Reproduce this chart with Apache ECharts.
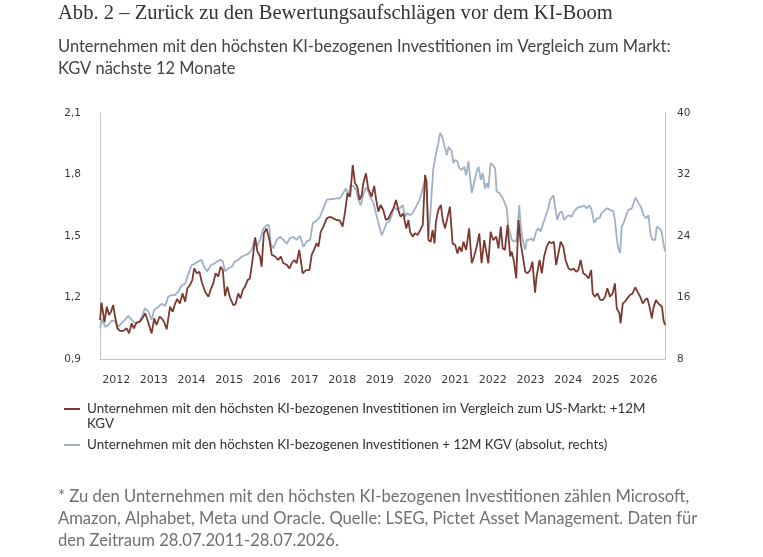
<!DOCTYPE html>
<html>
<head>
<meta charset="utf-8">
<title>Abb. 2</title>
<script src="https://cdn.jsdelivr.net/npm/echarts@6/dist/echarts.min.js"></script>
<style>
  html, body { margin: 0; padding: 0; background: #fff; }
  #chart { width: 763px; height: 557px; }
</style>
</head>
<body>
<div id="chart"></div>
<script>
// year ticks on the x axis
var yearTicks = [2012, 2013, 2014, 2015, 2016, 2017, 2018, 2019, 2020, 2021, 2022, 2023, 2024, 2025, 2026];

// relative 12M KGV vs US market (left axis), dates as decimal years
var relDates = [
  2011.57, 2011.61, 2011.69, 2011.75, 2011.81, 2011.86, 2011.92, 2011.97, 2012.03, 2012.10,
  2012.19, 2012.28, 2012.34, 2012.41, 2012.47, 2012.54, 2012.63, 2012.72, 2012.77, 2012.83,
  2012.88, 2012.94, 2013.01, 2013.07, 2013.15, 2013.21, 2013.27, 2013.34, 2013.43, 2013.50,
  2013.56, 2013.62, 2013.69, 2013.76, 2013.83, 2013.89, 2013.96, 2014.02, 2014.07, 2014.14,
  2014.21, 2014.27, 2014.36, 2014.45, 2014.51, 2014.58, 2014.64, 2014.71, 2014.77, 2014.83,
  2014.89, 2014.95, 2015.02, 2015.11, 2015.17, 2015.24, 2015.30, 2015.36, 2015.42, 2015.49,
  2015.55, 2015.62, 2015.69, 2015.75, 2015.82, 2015.86, 2015.92, 2015.99, 2016.07, 2016.13,
  2016.22, 2016.30, 2016.37, 2016.44, 2016.53, 2016.60, 2016.66, 2016.73, 2016.79, 2016.86,
  2016.95, 2017.04, 2017.13, 2017.19, 2017.25, 2017.32, 2017.37, 2017.43, 2017.50, 2017.59,
  2017.68, 2017.76, 2017.85, 2017.94, 2018.01, 2018.07, 2018.14, 2018.21, 2018.28, 2018.34,
  2018.40, 2018.46, 2018.52, 2018.56, 2018.63, 2018.69, 2018.74, 2018.78, 2018.85, 2018.90,
  2018.96, 2019.02, 2019.09, 2019.16, 2019.23, 2019.29, 2019.36, 2019.43, 2019.49, 2019.55,
  2019.62, 2019.70, 2019.76, 2019.80, 2019.87, 2019.93, 2020.00, 2020.07, 2020.14, 2020.20,
  2020.24, 2020.29, 2020.35, 2020.40, 2020.45, 2020.49, 2020.55, 2020.62, 2020.67, 2020.73,
  2020.79, 2020.86, 2020.93, 2021.00, 2021.06, 2021.11, 2021.17, 2021.22, 2021.29, 2021.37,
  2021.44, 2021.50, 2021.57, 2021.64, 2021.70, 2021.77, 2021.82, 2021.88, 2021.94, 2022.01,
  2022.09, 2022.15, 2022.21, 2022.26, 2022.32, 2022.39, 2022.46, 2022.50, 2022.56, 2022.62,
  2022.68, 2022.74, 2022.79, 2022.86, 2022.92, 2022.99, 2023.05, 2023.12, 2023.16, 2023.24,
  2023.30, 2023.36, 2023.43, 2023.50, 2023.56, 2023.62, 2023.68, 2023.74, 2023.80, 2023.87,
  2023.93, 2024.01, 2024.08, 2024.14, 2024.21, 2024.27, 2024.33, 2024.40, 2024.47, 2024.54,
  2024.61, 2024.65, 2024.71, 2024.78, 2024.85, 2024.92, 2024.98, 2025.04, 2025.11, 2025.18,
  2025.24, 2025.29, 2025.36, 2025.39, 2025.45, 2025.51, 2025.57, 2025.64, 2025.71, 2025.78,
  2025.84, 2025.91, 2025.98, 2026.04, 2026.10, 2026.16, 2026.22, 2026.26, 2026.33, 2026.39,
  2026.44, 2026.49, 2026.53, 2026.57
];
var relValues = [
  1.09, 1.175, 1.08, 1.155, 1.115, 1.13, 1.163, 1.106, 1.05, 1.037,
  1.037, 1.05, 1.025, 1.074, 1.05, 1.077, 1.082, 1.106, 1.123, 1.09,
  1.09, 1.025, 1.098, 1.066, 1.106, 1.098, 1.082, 1.045, 1.155, 1.13,
  1.168, 1.193, 1.171, 1.22, 1.18, 1.245, 1.261, 1.285, 1.342, 1.318,
  1.326, 1.277, 1.228, 1.204, 1.24, 1.27, 1.318, 1.302, 1.35, 1.334,
  1.207, 1.253, 1.2, 1.163, 1.168, 1.22, 1.196, 1.237, 1.253, 1.285,
  1.293, 1.383, 1.493, 1.424, 1.4, 1.35, 1.513, 1.537, 1.48, 1.408,
  1.4, 1.383, 1.4, 1.367, 1.359, 1.342, 1.367, 1.383, 1.367, 1.432,
  1.318, 1.334, 1.334, 1.408, 1.432, 1.465, 1.448, 1.52, 1.546, 1.586,
  1.594, 1.586, 1.578, 1.575, 1.546, 1.61, 1.708, 1.692, 1.846, 1.757,
  1.741, 1.676, 1.7, 1.757, 1.806, 1.733, 1.724, 1.692, 1.744, 1.679,
  1.619, 1.651, 1.627, 1.578, 1.586, 1.61, 1.635, 1.676, 1.627, 1.594,
  1.61, 1.537, 1.578, 1.521, 1.497, 1.513, 1.505, 1.529, 1.554, 1.798,
  1.765, 1.48, 1.472, 1.529, 1.464, 1.57, 1.627, 1.651, 1.578, 1.537,
  1.586, 1.643, 1.464, 1.456, 1.415, 1.448, 1.424, 1.472, 1.432, 1.537,
  1.367, 1.4, 1.448, 1.513, 1.367, 1.48, 1.488, 1.367, 1.521, 1.48,
  1.497, 1.44, 1.546, 1.44, 1.432, 1.554, 1.4, 1.424, 1.375, 1.293,
  1.578, 1.464, 1.456, 1.326, 1.318, 1.334, 1.375, 1.224, 1.302, 1.383,
  1.318, 1.4, 1.448, 1.472, 1.464, 1.472, 1.358, 1.415, 1.472, 1.448,
  1.383, 1.342, 1.334, 1.342, 1.326, 1.334, 1.383, 1.318, 1.31, 1.293,
  1.334, 1.22, 1.204, 1.22, 1.188, 1.188, 1.204, 1.245, 1.204, 1.22,
  1.269, 1.147, 1.123, 1.074, 1.171, 1.18, 1.196, 1.212, 1.22, 1.25,
  1.229, 1.204, 1.171, 1.188, 1.196, 1.155, 1.098, 1.147, 1.188, 1.171,
  1.18, 1.155, 1.09, 1.066
];

// absolute 12M KGV (right axis)
var absDates = [
  2011.57, 2011.64, 2011.70, 2011.79, 2011.88, 2011.97, 2012.06, 2012.15, 2012.23, 2012.32,
  2012.41, 2012.50, 2012.59, 2012.68, 2012.76, 2012.85, 2012.94, 2013.01, 2013.12, 2013.21,
  2013.30, 2013.38, 2013.47, 2013.56, 2013.65, 2013.74, 2013.83, 2013.92, 2014.00, 2014.09,
  2014.18, 2014.27, 2014.33, 2014.42, 2014.51, 2014.60, 2014.69, 2014.77, 2014.83, 2014.89,
  2014.98, 2015.07, 2015.15, 2015.24, 2015.33, 2015.42, 2015.51, 2015.60, 2015.67, 2015.73,
  2015.82, 2015.91, 2015.99, 2016.06, 2016.10, 2016.17, 2016.26, 2016.35, 2016.44, 2016.53,
  2016.61, 2016.70, 2016.79, 2016.88, 2016.97, 2017.06, 2017.15, 2017.22, 2017.32, 2017.41,
  2017.50, 2017.59, 2017.68, 2017.76, 2017.85, 2017.94, 2018.03, 2018.10, 2018.16, 2018.22,
  2018.30, 2018.37, 2018.43, 2018.49, 2018.56, 2018.63, 2018.69, 2018.74, 2018.83, 2018.92,
  2019.01, 2019.05, 2019.11, 2019.18, 2019.25, 2019.32, 2019.38, 2019.45, 2019.52, 2019.61,
  2019.67, 2019.73, 2019.80, 2019.87, 2019.96, 2020.05, 2020.11, 2020.16, 2020.20, 2020.24,
  2020.29, 2020.33, 2020.38, 2020.42, 2020.47, 2020.51, 2020.55, 2020.60, 2020.64, 2020.69,
  2020.73, 2020.78, 2020.82, 2020.86, 2020.91, 2020.95, 2021.00, 2021.06, 2021.11, 2021.17,
  2021.24, 2021.29, 2021.35, 2021.39, 2021.44, 2021.50, 2021.57, 2021.62, 2021.68, 2021.73,
  2021.79, 2021.84, 2021.88, 2021.94, 2022.00, 2022.06, 2022.10, 2022.17, 2022.24, 2022.30,
  2022.37, 2022.41, 2022.46, 2022.50, 2022.56, 2022.62, 2022.66, 2022.70, 2022.74, 2022.79,
  2022.86, 2022.90, 2022.97, 2023.03, 2023.08, 2023.15, 2023.21, 2023.27, 2023.34, 2023.41,
  2023.47, 2023.52, 2023.56, 2023.61, 2023.65, 2023.71, 2023.77, 2023.83, 2023.89, 2023.96,
  2024.03, 2024.09, 2024.16, 2024.23, 2024.30, 2024.36, 2024.42, 2024.49, 2024.56, 2024.62,
  2024.69, 2024.76, 2024.83, 2024.89, 2024.98, 2025.04, 2025.11, 2025.20, 2025.24, 2025.29,
  2025.33, 2025.38, 2025.42, 2025.47, 2025.54, 2025.60, 2025.69, 2025.75, 2025.79, 2025.86,
  2025.93, 2026.00, 2026.07, 2026.13, 2026.19, 2026.24, 2026.31, 2026.35, 2026.42, 2026.48,
  2026.53, 2026.57
];
var absValues = [
  12.0, 13.3, 12.2, 12.4, 13.0, 12.9, 12.2, 12.7, 13.1, 13.6,
  13.1, 12.7, 12.7, 13.5, 14.6, 14.2, 13.1, 14.4, 14.8, 15.2,
  14.9, 16.1, 16.3, 16.3, 16.8, 17.6, 17.8, 19.1, 20.2, 20.4,
  20.7, 20.9, 20.0, 19.4, 20.2, 20.4, 20.7, 20.9, 20.7, 19.4,
  19.8, 20.0, 20.7, 20.9, 21.3, 21.5, 21.7, 22.2, 23.5, 22.6,
  23.5, 25.0, 25.4, 25.4, 23.0, 22.4, 23.5, 23.9, 23.5, 23.0,
  23.7, 23.9, 23.5, 24.0, 22.6, 23.3, 23.5, 25.7, 26.0, 26.5,
  27.6, 28.7, 28.8, 28.8, 28.9, 28.9, 29.6, 30.2, 29.1, 30.6,
  30.5, 30.0, 28.7, 28.0, 29.3, 30.3, 29.8, 29.1, 28.3, 26.5,
  24.8, 24.1, 24.8, 25.7, 25.9, 26.7, 27.8, 27.4, 27.6, 28.0,
  26.5, 27.0, 26.7, 27.0, 27.8, 28.7, 29.6, 30.6, 31.3, 29.8,
  23.9, 26.1, 30.0, 32.8, 33.0, 35.2, 36.0, 37.4, 37.1, 36.3,
  35.4, 34.5, 35.6, 35.8, 35.0, 33.5, 33.9, 33.7, 32.8, 32.6,
  33.0, 31.9, 33.7, 33.9, 29.6, 30.9, 32.4, 33.0, 31.3, 32.2,
  30.2, 30.9, 30.2, 33.5, 33.2, 32.8, 29.8, 29.6, 29.1, 28.5,
  27.6, 25.2, 24.4, 23.5, 23.3, 23.3, 25.2, 28.0, 25.2, 23.5,
  22.2, 23.5, 23.5, 23.7, 23.3, 24.6, 25.0, 24.6, 25.7, 26.7,
  27.6, 28.7, 28.9, 29.3, 27.8, 26.1, 27.0, 27.2, 26.1, 26.5,
  26.7, 26.5, 27.2, 27.6, 27.8, 27.8, 28.0, 27.6, 28.0, 27.4,
  25.7, 26.3, 26.3, 27.0, 27.4, 27.6, 27.4, 27.2, 26.1, 23.7,
  22.4, 21.8, 25.2, 25.7, 26.7, 27.4, 27.6, 28.5, 29.0, 28.3,
  27.8, 26.7, 26.3, 26.7, 24.1, 23.5, 23.5, 25.2, 25.0, 24.6,
  23.0, 22.0
];

var legendNames = [
  'Unternehmen mit den höchsten KI-bezogenen Investitionen im Vergleich zum US-Markt: +12M\nKGV',
  'Unternehmen mit den höchsten KI-bezogenen Investitionen + 12M KGV (absolut, rechts)'
];

var brown = '#7b3a31', steel = '#a0b1c6';
var sansFont = 'Lato, "Open Sans", sans-serif';
var axisFont = '"DejaVu Sans", Verdana, sans-serif';

function zip(xs, ys) {
    var out = [];
    for (var i = 0; i < xs.length; i++) {
        out.push([xs[i], ys[i]]);
    }
    return out;
}

var chart = echarts.init(document.getElementById('chart'), null, { renderer: 'canvas' });

var option = {
    backgroundColor: '#fff',
    animation: false,
    grid: { left: 100, right: 98, top: 113, bottom: 198, containLabel: false },
    xAxis: {
        type: 'value',
        min: 2011.57,
        max: 2026.57,
        splitLine: { show: false },
        axisTick: { show: false },
        axisLine: { show: true, lineStyle: { color: '#c4c4c4', width: 1 } },
        axisLabel: {
            customValues: yearTicks,
            formatter: function(v) { return String(Math.round(v)); },
            color: '#3a3a3a',
            fontFamily: axisFont,
            fontSize: 11,
            margin: 16
        }
    },
    yAxis: [{
        type: 'value',
        position: 'left',
        min: 0.9,
        max: 2.1,
        interval: 0.3,
        splitLine: { show: false },
        axisTick: { show: false },
        axisLine: { show: true, lineStyle: { color: '#c4c4c4', width: 1 } },
        axisLabel: {
            formatter: function(v) { return v.toFixed(1).replace('.', ','); },
            color: '#3a3a3a',
            fontFamily: axisFont,
            fontSize: 10.5,
            margin: 19
        }
    }, {
        type: 'value',
        position: 'right',
        min: 8,
        max: 40,
        interval: 8,
        splitLine: { show: false },
        axisTick: { show: false },
        axisLine: { show: true, lineStyle: { color: '#c4c4c4', width: 1 } },
        axisLabel: {
            color: '#3a3a3a',
            fontFamily: axisFont,
            fontSize: 10.5,
            margin: 12
        }
    }],
    series: [{
        name: legendNames[1],
        type: 'line',
        yAxisIndex: 1,
        data: zip(absDates, absValues),
        showSymbol: false,
        z: 2,
        lineStyle: { color: steel, width: 1.8 },
        itemStyle: { color: steel }
    }, {
        name: legendNames[0],
        type: 'line',
        yAxisIndex: 0,
        data: zip(relDates, relValues),
        showSymbol: false,
        z: 3,
        lineStyle: { color: brown, width: 1.8 },
        itemStyle: { color: brown }
    }],
    graphic: [
        {
            type: 'text', left: 58, top: 3,
            style: {
                text: 'Abb. 2 – Zurück zu den Bewertungsaufschlägen vor dem KI-Boom',
                font: '20.6px "Liberation Serif", "DejaVu Serif", serif',
                fill: '#333'
            }
        },
        {
            type: 'text', left: 58, top: 36,
            style: {
                text: 'Unternehmen mit den höchsten KI-bezogenen Investitionen im Vergleich zum Markt:\nKGV nächste 12 Monate',
                font: '16.5px ' + sansFont,
                lineHeight: 22,
                fill: '#444'
            }
        },
        // legend
        { type: 'rect', shape: { x: 64, y: 408, width: 16, height: 2 }, style: { fill: brown } },
        {
            type: 'text', left: 87, top: 401,
            style: { text: legendNames[0], font: '13.4px ' + sansFont, lineHeight: 15, fill: '#333' }
        },
        { type: 'rect', shape: { x: 64, y: 444, width: 16, height: 2 }, style: { fill: steel } },
        {
            type: 'text', left: 87, top: 437,
            style: { text: legendNames[1], font: '13.4px ' + sansFont, lineHeight: 15, fill: '#333' }
        },
        // footnote
        {
            type: 'text', left: 58, top: 486,
            style: {
                text: '* Zu den Unternehmen mit den höchsten KI-bezogenen Investitionen zählen Microsoft,\n' +
                      'Amazon, Alphabet, Meta und Oracle. Quelle: LSEG, Pictet Asset Management. Daten für\n' +
                      'den Zeitraum 28.07.2011-28.07.2026.',
                font: '16.6px ' + sansFont,
                lineHeight: 22,
                fill: '#707070'
            }
        }
    ]
};

chart.setOption(option);
</script>
</body>
</html>
